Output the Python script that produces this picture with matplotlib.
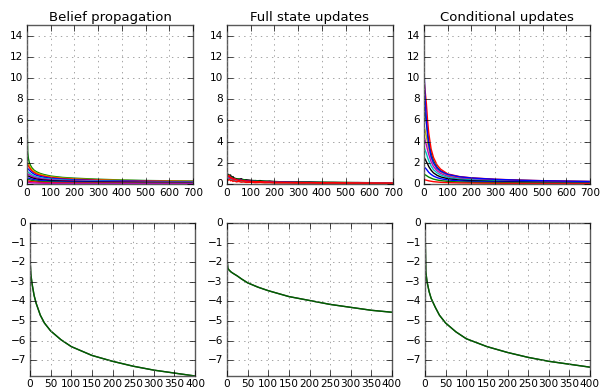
import matplotlib
matplotlib.use("Agg")
import matplotlib.pyplot as plt

plt.style.use("classic")

x_top = [0, 3, 6, 10, 15, 20, 30, 40, 55, 70, 100, 150, 200, 300, 400, 500, 600, 700]

# belief propagation, one list per run
bp_curves = [
    [6.0, 3.0, 2.4, 2.0, 1.75, 1.55, 1.3, 1.15, 1.0, 0.9, 0.75, 0.62, 0.55, 0.45, 0.38, 0.33, 0.30, 0.28],
    [2.1, 2.0, 1.9, 1.75, 1.55, 1.4, 1.2, 1.05, 0.92, 0.82, 0.68, 0.56, 0.49, 0.4, 0.34, 0.3, 0.27, 0.25],
    [1.9, 1.8, 1.7, 1.55, 1.4, 1.25, 1.08, 0.95, 0.83, 0.74, 0.62, 0.51, 0.45, 0.37, 0.31, 0.28, 0.25, 0.23],
    [1.5, 1.45, 1.4, 1.3, 1.18, 1.08, 0.93, 0.82, 0.72, 0.64, 0.54, 0.45, 0.39, 0.32, 0.28, 0.25, 0.22, 0.2],
    [1.2, 1.15, 1.1, 1.03, 0.95, 0.88, 0.77, 0.68, 0.6, 0.54, 0.46, 0.38, 0.33, 0.28, 0.24, 0.21, 0.19, 0.18],
    [1.0, 0.96, 0.92, 0.86, 0.8, 0.74, 0.65, 0.58, 0.51, 0.46, 0.39, 0.33, 0.29, 0.24, 0.21, 0.19, 0.17, 0.16],
    [0.8, 0.77, 0.74, 0.7, 0.65, 0.6, 0.53, 0.47, 0.42, 0.38, 0.32, 0.27, 0.24, 0.2, 0.17, 0.15, 0.14, 0.13],
    [0.6, 0.58, 0.56, 0.53, 0.49, 0.46, 0.41, 0.37, 0.33, 0.3, 0.25, 0.21, 0.19, 0.16, 0.14, 0.12, 0.11, 0.1],
    [0.45, 0.44, 0.42, 0.4, 0.37, 0.34, 0.3, 0.27, 0.24, 0.22, 0.19, 0.16, 0.14, 0.12, 0.1, 0.09, 0.08, 0.08],
    [0.3, 0.29, 0.28, 0.26, 0.24, 0.22, 0.2, 0.18, 0.16, 0.14, 0.12, 0.1, 0.09, 0.08, 0.07, 0.06, 0.06, 0.05],
    [0.15, 0.15, 0.14, 0.13, 0.12, 0.11, 0.1, 0.09, 0.08, 0.07, 0.06, 0.05, 0.05, 0.04, 0.04, 0.03, 0.03, 0.03],
]
bp_colors = ["g", "y", "r", "b", "c", "m", "k", "b", "g", "r", "m"]

# conditional updates
cu_curves = [
    [7.5, 7.0, 6.5, 5.8, 4.9, 4.0, 2.9, 2.2, 1.6, 1.25, 0.88, 0.65, 0.53, 0.41, 0.34, 0.29, 0.25, 0.22],
    [5.5, 5.2, 4.9, 4.5, 3.9, 3.3, 2.5, 1.95, 1.45, 1.15, 0.82, 0.6, 0.5, 0.38, 0.32, 0.27, 0.23, 0.2],
    [4.5, 4.3, 4.0, 3.7, 3.2, 2.8, 2.1, 1.65, 1.25, 1.0, 0.72, 0.53, 0.44, 0.34, 0.28, 0.24, 0.21, 0.18],
    [3.5, 3.3, 3.1, 2.9, 2.5, 2.2, 1.7, 1.35, 1.05, 0.85, 0.62, 0.46, 0.38, 0.3, 0.25, 0.21, 0.18, 0.16],
    [2.5, 2.4, 2.3, 2.1, 1.9, 1.65, 1.3, 1.05, 0.82, 0.67, 0.5, 0.37, 0.31, 0.24, 0.2, 0.17, 0.15, 0.13],
    [1.6, 1.55, 1.5, 1.4, 1.25, 1.1, 0.9, 0.75, 0.6, 0.5, 0.38, 0.29, 0.24, 0.19, 0.16, 0.14, 0.12, 0.11],
    [0.9, 0.88, 0.85, 0.8, 0.72, 0.65, 0.55, 0.46, 0.38, 0.32, 0.25, 0.19, 0.16, 0.13, 0.11, 0.1, 0.09, 0.08],
    [0.4, 0.39, 0.38, 0.36, 0.33, 0.3, 0.26, 0.22, 0.19, 0.16, 0.13, 0.1, 0.09, 0.07, 0.06, 0.05, 0.05, 0.04],
    [10.0, 9.2, 8.5, 7.6, 6.0, 4.8, 3.3, 2.5, 1.8, 1.4, 0.95, 0.7, 0.58, 0.45, 0.37, 0.31, 0.27, 0.24],
    [11.0, 9.0, 7.5, 6.0, 4.6, 3.7, 2.6, 2.0, 1.5, 1.2, 0.9, 0.68, 0.57, 0.44, 0.36, 0.31, 0.27, 0.24],
]
cu_colors = ["g", "y", "m", "c", "k", "b", "g", "r", "r", "b"]

# full state updates: noisy, read on a denser grid
x_fs = [0, 5, 10, 15, 20, 25, 30, 40, 50, 60, 70, 80, 100, 120, 140, 160, 180,
        200, 250, 300, 350, 400, 450, 500, 550, 600, 650, 700]
fs_curves = [
    [1.0, 0.9, 0.8, 0.85, 0.6, 0.7, 0.55, 0.5, 0.45, 0.5, 0.38, 0.4, 0.35, 0.3, 0.32, 0.25,
     0.28, 0.22, 0.2, 0.18, 0.19, 0.15, 0.16, 0.13, 0.14, 0.12, 0.12, 0.11],
    [0.9, 0.75, 0.85, 0.6, 0.65, 0.5, 0.55, 0.45, 0.48, 0.38, 0.42, 0.33, 0.3, 0.33, 0.26,
     0.28, 0.22, 0.24, 0.18, 0.2, 0.16, 0.17, 0.14, 0.15, 0.12, 0.13, 0.11, 0.11],
    [0.8, 0.7, 0.6, 0.65, 0.5, 0.52, 0.45, 0.4, 0.36, 0.38, 0.3, 0.32, 0.26, 0.25, 0.22,
     0.23, 0.2, 0.18, 0.17, 0.15, 0.14, 0.13, 0.12, 0.12, 0.11, 0.1, 0.1, 0.09],
    [0.7, 0.6, 0.55, 0.5, 0.45, 0.42, 0.38, 0.35, 0.3, 0.3, 0.27, 0.25, 0.22, 0.2, 0.2,
     0.18, 0.17, 0.15, 0.14, 0.13, 0.12, 0.11, 0.1, 0.1, 0.09, 0.09, 0.08, 0.08],
    [0.6, 0.5, 0.45, 0.42, 0.38, 0.35, 0.3, 0.28, 0.25, 0.24, 0.22, 0.2, 0.18, 0.17, 0.16,
     0.15, 0.14, 0.13, 0.12, 0.11, 0.1, 0.1, 0.09, 0.09, 0.08, 0.08, 0.07, 0.07],
    [0.95, 0.7, 0.8, 0.55, 0.6, 0.45, 0.5, 0.4, 0.35, 0.36, 0.3, 0.28, 0.25, 0.22, 0.22,
     0.2, 0.18, 0.17, 0.15, 0.14, 0.13, 0.12, 0.12, 0.11, 0.1, 0.1, 0.09, 0.09],
    [0.5, 0.35, 0.45, 0.3, 0.35, 0.24, 0.3, 0.2, 0.24, 0.17, 0.2, 0.15, 0.16, 0.12, 0.14,
     0.11, 0.12, 0.09, 0.1, 0.08, 0.09, 0.07, 0.08, 0.06, 0.07, 0.05, 0.06, 0.05],
]
fs_colors = ["k", "g", "b", "m", "c", "r", "r"]

# bottom row: one curve per method
x_bot = [0, 2, 5, 10, 15, 25, 35, 50, 75, 100, 150, 200, 250, 300, 350, 400]
bp_log = [-1.8, -2.6, -3.1, -3.7, -4.1, -4.7, -5.1, -5.5, -5.95, -6.3, -6.75, -7.05, -7.3, -7.5, -7.65, -7.8]
fs_log = [-1.8, -2.3, -2.4, -2.5, -2.57, -2.7, -2.85, -3.05, -3.27, -3.45, -3.75, -3.95, -4.15, -4.3, -4.45, -4.55]
cu_log = [0.0, -2.5, -3.0, -3.5, -3.85, -4.3, -4.7, -5.1, -5.55, -5.9, -6.3, -6.6, -6.85, -7.05, -7.2, -7.35]

titles = ["Belief propagation", "Full state updates", "Conditional updates"]

fig = plt.figure(figsize=(6.08, 3.89), dpi=100, facecolor="white")

top_left = [27, 227, 424]
bot_left = [30, 227, 425]
W, H = 608.0, 389.0

def style(ax):
    ax.grid(True, color="0.5", linestyle=":")
    ax.tick_params(labelsize=7.6, length=4, pad=3)
    for s in ax.spines.values():
        s.set_color("0.35")

top_sets = [(x_top, bp_curves, bp_colors), (x_fs, fs_curves, fs_colors), (x_top, cu_curves, cu_colors)]
for i in range(3):
    ax = fig.add_axes([top_left[i] / W, 1 - 184 / H, 166 / W, 159 / H])
    xs, curves, cols = top_sets[i]
    for c, col in zip(curves, cols):
        ax.plot(xs, c, color=col, lw=1.0)
    ax.set_xlim(0, 700)
    ax.set_ylim(0, 15)
    ax.set_yticks(range(0, 15, 2))
    ax.set_xticks(range(0, 701, 100))
    ax.set_title(titles[i], fontsize=9.5, pad=3)
    style(ax)

bot_sets = [bp_log, fs_log, cu_log]
for i in range(3):
    ax = fig.add_axes([bot_left[i] / W, 1 - 376 / H, 165 / W, 153 / H])
    ax.plot(x_bot, bot_sets[i], color="k", lw=1.0)
    ax.plot(x_bot, bot_sets[i], color="g", lw=1.0, alpha=0.75)
    ax.set_xlim(0, 400)
    ax.set_ylim(-7.8, 0)
    ax.set_yticks(range(-7, 1))
    ax.set_xticks(range(0, 401, 50))
    style(ax)
    ax.tick_params(axis="x", pad=2)

fig.savefig("out.png", dpi=100, facecolor="white")
